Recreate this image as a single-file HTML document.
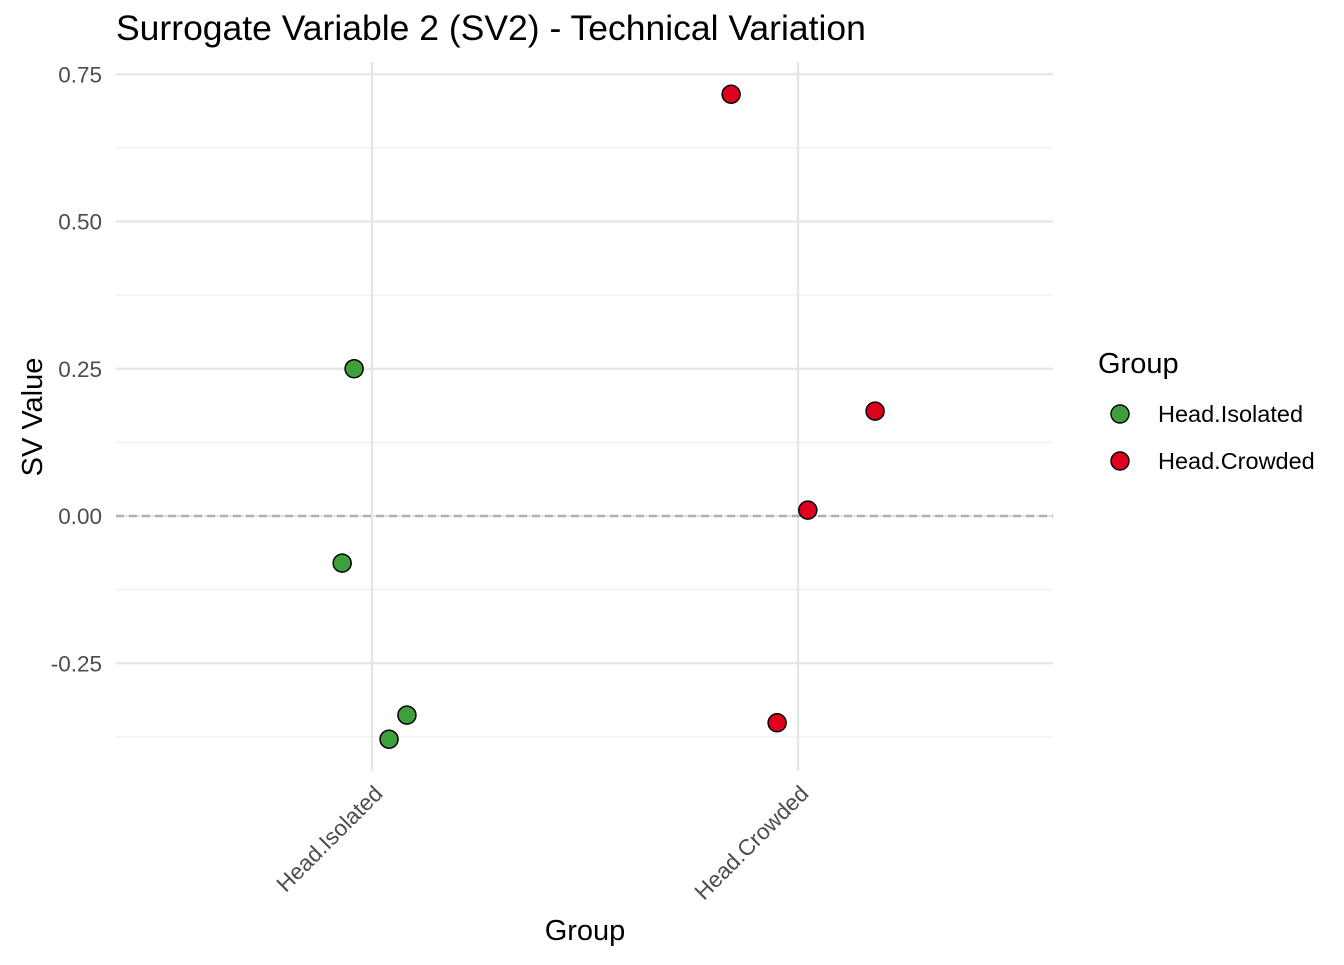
<!DOCTYPE html>
<html><head><meta charset="utf-8"><style>
body{margin:0;background:#fff;font-family:"Liberation Sans",Arial,sans-serif}
</style></head><body>
<svg id="chart" width="1344" height="960" xmlns="http://www.w3.org/2000/svg" font-family="Liberation Sans, Arial, sans-serif">
<text x="116" y="40" font-size="35.5" fill="#000">Surrogate Variable 2 (SV2) - Technical Variation</text>
<g id="grid"></g>
<g id="marks"></g>
<text transform="translate(42,417) rotate(-90)" text-anchor="middle" font-size="29">SV Value</text>
<text x="585" y="940" text-anchor="middle" font-size="29">Group</text>
<g>
<text x="1098" y="373" font-size="29">Group</text>
<circle cx="1120" cy="414" r="9" fill="#3f9f3a" stroke="#000" stroke-width="1.4"/>
<text x="1158" y="422" font-size="23.5">Head.Isolated</text>
<circle cx="1120" cy="461" r="9" fill="#dc001c" stroke="#000" stroke-width="1.4"/>
<text x="1158" y="469" font-size="23.5">Head.Crowded</text>
</g>
</svg>
<script>
const categories=["Head.Isolated","Head.Crowded"];
const pointGroup=[0,0,0,0,1,1,1,1];
const pointJitter=[-0.042,-0.070,0.040,0.082,-0.157,0.181,0.023,-0.049];
const pointValues=[0.250,-0.080,-0.379,-0.338,0.716,0.178,0.010,-0.351];
const yTicks=[-0.25,0,0.25,0.5,0.75];
const yTickLabels=["-0.25","0.00","0.25","0.50","0.75"];
const yMinor=[-0.375,-0.125,0.125,0.375,0.625];
const colors=["#3f9f3a","#dc001c"];
const NS="http://www.w3.org/2000/svg";
const X0=116,X1=1053,Y0=62,Y1=771;
function y(v){return 516-v*589;}
function x(c){return 372+c*426;}
function mk(t,a,p){const e=document.createElementNS(NS,t);for(const k in a)e.setAttribute(k,a[k]);p.appendChild(e);return e;}
const g=document.getElementById('grid'),m=document.getElementById('marks');
yMinor.forEach(v=>{const l=mk('line',{x1:X0,x2:X1,y1:y(v),y2:y(v),stroke:'#ebebeb','stroke-width':1.1},g);

});
yTicks.forEach((v,i)=>{const l=mk('line',{x1:X0,x2:X1,y1:y(v),y2:y(v),stroke:'#e5e5e5','stroke-width':2.2},g);


const t=mk('text',{x:102,y:y(v)+8,'text-anchor':'end','font-size':22.5,fill:'#4d4d4d'},g);t.textContent=yTickLabels[i];

});
categories.forEach((c,i)=>{const l=mk('line',{x1:x(i),x2:x(i),y1:Y0,y2:Y1,stroke:'#e5e5e5','stroke-width':2.2},g);


const t=mk('text',{transform:`translate(${x(i)+12},${795}) rotate(-45)`,'text-anchor':'end','font-size':22.5,fill:'#4d4d4d'},g);t.textContent=c;

});
const z=mk('line',{x1:X0,x2:X1,y1:y(0),y2:y(0),stroke:'#b0b0b0','stroke-width':2.4,'stroke-dasharray':'8,5'},g);


pointValues.forEach((v,i)=>{const gi=pointGroup[i];
const c=mk('circle',{cx:x(gi+pointJitter[i]),cy:y(v),r:9,fill:colors[gi],stroke:'#000','stroke-width':1.5},m);

});
</script>
</body></html>
